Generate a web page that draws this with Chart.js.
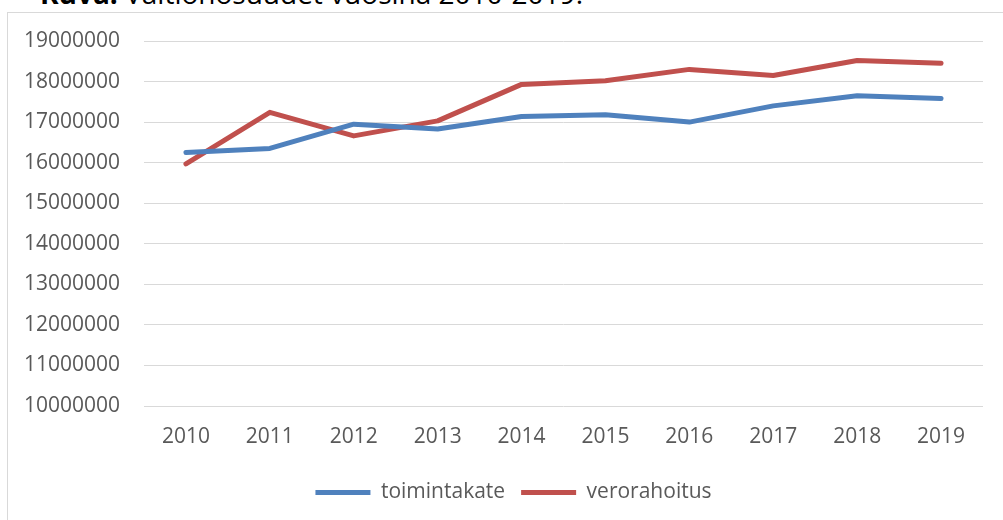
<!DOCTYPE html>
<html>
<head>
<meta charset="utf-8">
<script src="https://cdn.jsdelivr.net/npm/chart.js@4.4.0/dist/chart.umd.min.js"></script>
<style>
  html, body { margin: 0; padding: 0; background: #fff; overflow: hidden; }
  #title {
    position: absolute; left: 40px; top: -21px;
    font-family: "Open Sans", sans-serif; font-size: 28px; line-height: 28px;
    color: #000; white-space: nowrap;
  }
  #frame {
    position: absolute; left: 7px; top: 12px; width: 1010px; height: 520px;
    border-left: 1px solid #d9d9d9; border-top: 1px solid #d9d9d9;
  }
  #wrap { position: absolute; left: 0; top: 0; width: 1003px; height: 520px; }
</style>
</head>
<body>
<div id="title"><b>Kuva:</b> Valtionosuudet vuosina 2010-2019.</div>
<div id="frame"></div>
<div id="wrap"><canvas id="c"></canvas></div>
<script>
// years on the x axis
const years = ['2010', '2011', '2012', '2013', '2014', '2015', '2016', '2017', '2018', '2019']
// values
const toimintakate = [16250000, 16350000, 16950000, 16830000, 17140000, 17180000, 17000000, 17400000, 17650000, 17580000]
const verorahoitus = [15970000, 17240000, 16660000, 17030000, 17930000, 18020000, 18300000, 18150000, 18520000, 18450000]
const yMin = 10000000
const yMax = 19000000
const yStep = 1000000

const textColor = '#595959'
const gridColor = '#d9d9d9'
const font = { family: '"Open Sans", sans-serif', size: 21 }

function makeSet(label, data, color) {
  return {
    label,
    data,
    borderColor: color,
    backgroundColor: color,
    borderWidth: 5,
    borderCapStyle: 'round',
    borderJoinStyle: 'round',
    pointRadius: 0,
    pointHoverRadius: 0,
    tension: 0,
    fill: false
  }
}

// nudge the legend a bit right, like in the original
const legendShift = {
  id: 'legendShift',
  afterLayout(chart) {
    chart.legend.left += 22
    chart.legend.right += 22
  }
}

new Chart(document.getElementById('c'), {
  type: 'line',
  data: {
    labels: years,
    datasets: [
      makeSet('toimintakate', toimintakate, '#4f81bd'),
      makeSet('verorahoitus', verorahoitus, '#c0504d')
    ]
  },
  plugins: [legendShift],
  options: {
    responsive: true,
    maintainAspectRatio: false,
    animation: false,
    layout: { padding: { left: 0, right: 20, top: 41, bottom: 7 } },
    plugins: {
      tooltip: { enabled: false },
      legend: {
        position: 'bottom',
        labels: {
          usePointStyle: true,
          pointStyle: 'line',
          pointStyleWidth: 55,
          color: textColor,
          font,
          padding: 16
        }
      }
    },
    scales: {
      x: {
        offset: true,
        grid: { display: false, drawTicks: false },
        border: { display: false },
        ticks: { color: textColor, font, padding: 18, maxRotation: 0 },
        afterFit: (s) => { s.height = 60 }
      },
      y: {
        min: yMin,
        max: yMax,
        grid: { color: gridColor, lineWidth: 1, drawTicks: false },
        border: { display: false },
        ticks: { stepSize: yStep, color: textColor, font, padding: 24, callback: (v) => String(v) },
        afterFit: (s) => { s.width = 144 }
      }
    }
  }
})
</script>
</body>
</html>
